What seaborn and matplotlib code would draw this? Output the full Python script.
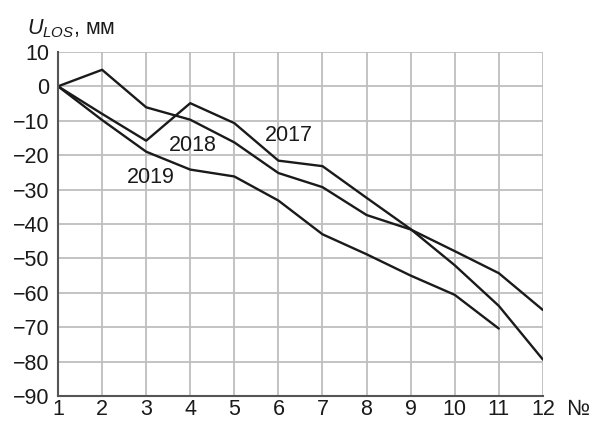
import matplotlib
matplotlib.use("Agg")
import matplotlib.pyplot as plt
import seaborn as sns
import pandas as pd

# ---- data ----
x_2017 = [1, 2, 3, 4, 5, 6, 7, 8, 9, 10, 11, 12]
y_2017 = [0, -8, -15.8, -4.9, -10.7, -21.6, -23.2, -32.4, -41.5, -52.0, -63.8, -79.4]
x_2018 = [1, 2, 3, 4, 5, 6, 7, 8, 9, 10, 11, 12]
y_2018 = [0, 4.8, -6.1, -9.7, -16.3, -25.2, -29.3, -37.4, -41.6, -47.9, -54.3, -65.0]
x_2019 = [1, 2, 3, 4, 5, 6, 7, 8, 9, 10, 11]
y_2019 = [0, -9.8, -19.0, -24.2, -26.2, -33.2, -43.0, -48.8, -55.0, -60.6, -70.4]
years = ["2017", "2018", "2019"]
label_pos = {"2017": (6.24, -14.2), "2018": (4.05, -17.2), "2019": (3.11, -26.6)}
x_ticks = list(range(1, 13))
y_ticks = list(range(-90, 11, 10))

df = pd.concat([
    pd.DataFrame({"n": x_2017, "u": y_2017, "year": "2017"}),
    pd.DataFrame({"n": x_2018, "u": y_2018, "year": "2018"}),
    pd.DataFrame({"n": x_2019, "u": y_2019, "year": "2019"}),
])

sns.set_theme(style="white")
plt.rcParams["font.family"] = ["Liberation Sans", "DejaVu Sans"]
plt.rcParams["mathtext.fontset"] = "custom"
plt.rcParams["mathtext.it"] = "Liberation Sans:italic"
plt.rcParams["mathtext.rm"] = "Liberation Sans"

FS = 15.5
fig = plt.figure(figsize=(5.92, 4.22), dpi=100)
ax = fig.add_axes([0.098, 0.0616, 0.819, 0.8154])

sns.lineplot(data=df, x="n", y="u", hue="year", units="year", estimator=None,
             palette={y: "#1a1a1a" for y in years}, linewidth=1.7,
             legend=False, ax=ax, sort=False)

ax.set_xlim(1, 12)
ax.set_ylim(-90, 10)
ax.set_xticks(x_ticks)
ax.set_yticks(y_ticks)
ax.set_xticklabels([str(t) for t in x_ticks])
ax.set_yticklabels([str(t).replace("-", "\u2212") for t in y_ticks])
ax.tick_params(axis="both", length=0, labelsize=FS, colors="#1a1a1a")
ax.tick_params(axis="x", pad=2)
ax.tick_params(axis="y", pad=6)
ax.grid(True, color="#bebebe", linewidth=1.3)
ax.set_axisbelow(True)
for s in ["top", "right"]:
    ax.spines[s].set_visible(False)
for s in ["left", "bottom"]:
    ax.spines[s].set_color("#555555")
    ax.spines[s].set_linewidth(1.5)
ax.set_xlabel("")
ax.set_ylabel("")

for yr in years:
    px, py = label_pos[yr]
    ax.text(px, py, yr, fontsize=FS, ha="center", va="center", color="#1a1a1a")

fig.text(0.045, 0.933, "$U_{LOS}$, мм", fontsize=FS, ha="left", va="center", color="#1a1a1a")
fig.text(0.956, 0.03, "№", fontsize=FS, ha="left", va="center", color="#1a1a1a")

fig.savefig("out.png", dpi=100, facecolor="white")
